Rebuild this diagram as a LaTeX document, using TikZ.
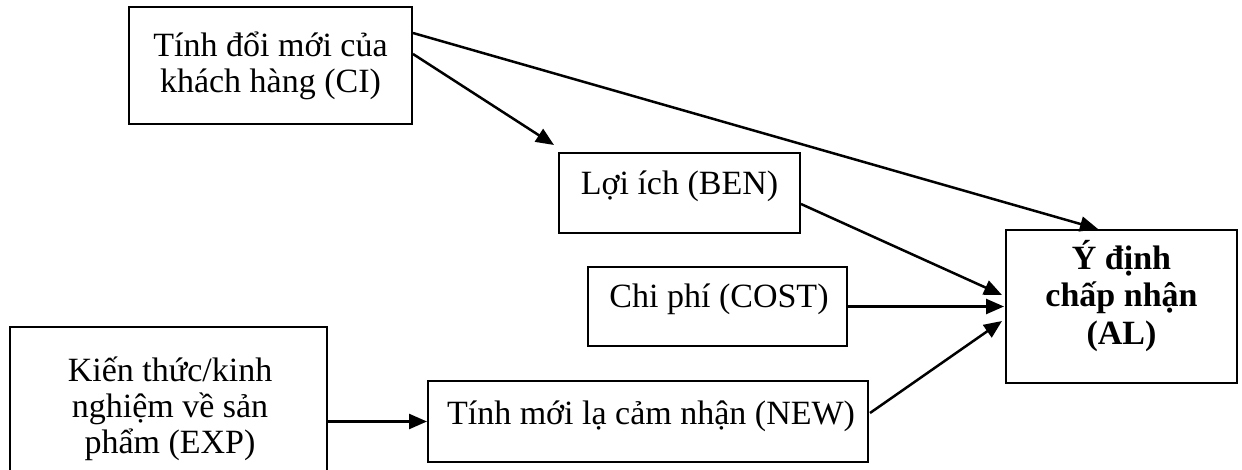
\documentclass[tikz,border=0pt]{standalone}
\usepackage{fontspec}
\setmainfont{Liberation Serif}
\usetikzlibrary{arrows.meta,calc}
\begin{document}
\begin{tikzpicture}[x=1pt,y=-1pt,
  box/.style={draw=black, line width=2pt, rectangle, inner sep=0pt},
  lbl/.style={font=\fontsize{34}{36}\selectfont, align=center, inner sep=0pt, anchor=base},
  boldlbl/.style={lbl, font=\fontsize{34}{37}\selectfont\bfseries},
  link/.style={draw=black, line width=2.5pt, -{Triangle[length=18pt,width=15pt]}}
]
\clip (0,0) rectangle (1242,470);
\fill[white] (0,0) rectangle (1242,470);

% boxes
\node[box, minimum width=283pt, minimum height=117pt] (ci)   at (270.5,65.5)  {};
\node[box, minimum width=241pt, minimum height=80pt]  (ben)  at (679.5,193)   {};
\node[box, minimum width=259pt, minimum height=79pt]  (cost) at (717.5,306.5) {};
\node[box, minimum width=231pt, minimum height=153pt] (al)   at (1121.5,306.5){};
\node[box, minimum width=317pt, minimum height=163pt] (exp)  at (168.5,408.5) {};
\node[box, minimum width=440pt, minimum height=81pt]  (new)  at (648,421.5)   {};

% box texts (each anchored at the baseline of its last line)
\node[lbl] (ci-t)   at (270.5,93)  {Tính đổi mới của\\khách hàng (CI)};
\node[lbl] (ben-t)  at (679.5,195) {Lợi ích (BEN)};
\node[lbl] (cost-t) at (719,308)   {Chi phí (COST)};
\node[boldlbl] (al-t) at (1121.5,344) {Ý định\\chấp nhận\\(AL)};
\node[lbl] (exp-t)  at (170,453)   {Kiến thức/kinh\\nghiệm về sản\\phẩm (EXP)};
\node[lbl] (new-t)  at (651,424)   {Tính mới lạ cảm nhận (NEW)};

% connectors
\draw[link] ($(ci.north east)+(0,27)$) -- ($(al.north west)+(93,0)$);
\draw[link] ($(ci.north east)+(0,48)$) -- ($(ben.north west)+(-4,-7)$);
\draw[link] ($(ben.east)+(0,11)$) -- ($(al.west)+(-3,-11.5)$);
\draw[link] (cost.east) -- ($(al.west)+(-1,0)$);
\draw[link] ($(new.east)+(1,-8.5)$) -- ($(al.west)+(-3,14.5)$);
\draw[link] (exp.east |- new.west) -- (new.west);
\end{tikzpicture}
\end{document}
